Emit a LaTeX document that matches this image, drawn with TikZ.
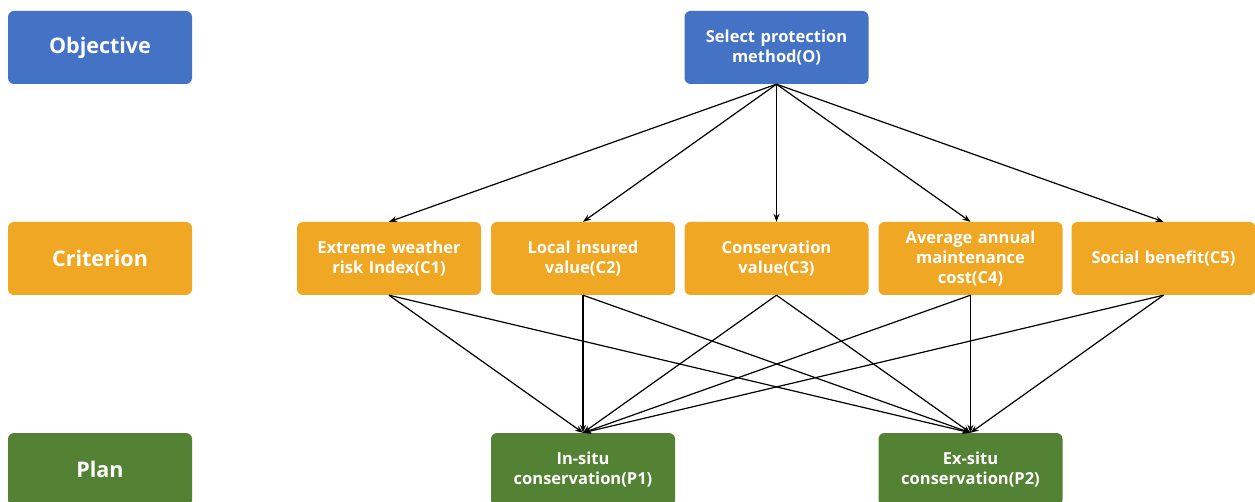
\documentclass[tikz,border=0pt]{standalone}
\usepackage{fontspec}
\setmainfont{Open Sans}
\usetikzlibrary{arrows.meta}
\definecolor{objblue}{HTML}{4472C4}
\definecolor{critorange}{HTML}{EFA724}
\definecolor{plangreen}{HTML}{548235}
\begin{document}
\begin{tikzpicture}[x=1pt,y=-1pt,
  box/.style={rounded corners=6pt, minimum width=184pt, minimum height=73pt, inner sep=2pt,
    text=white, font=\bfseries\fontsize{16.5}{20}\selectfont, align=center, text width=180pt},
  lvl/.style={box, font=\bfseries\fontsize{21.5}{25}\selectfont},
  obj/.style={fill=objblue},
  crit/.style={fill=critorange},
  plan/.style={fill=plangreen},
  link/.style={-{Stealth[length=8pt,width=6pt]}, line width=1.2pt, black}]
\useasboundingbox (0,0) rectangle (1255,502);
\node[lvl,obj]  (lo) at (100,47.5) {Objective};
\node[lvl,crit] (lc) at (100,258.5) {Criterion};
\node[lvl,plan] (lp) at (100,469.5) {Plan};
\node[box,obj] (O) at (776.5,47.5) {Select protection\\method(O)};
\node[box,crit] (C1) at (389,258.5) {Extreme weather\\risk Index(C1)};
\node[box,crit] (C2) at (583,258.5) {Local insured\\value(C2)};
\node[box,crit] (C3) at (776.5,258.5) {Conservation\\value(C3)};
\node[box,crit] (C4) at (970.5,258.5) {Average annual\\maintenance\\cost(C4)};
\node[box,crit] (C5) at (1163.5,258.5) {Social benefit(C5)};
\node[box,plan] (P1) at (583,469.5) {In-situ\\conservation(P1)};
\node[box,plan] (P2) at (970.5,469.5) {Ex-situ\\conservation(P2)};
\foreach \c in {C1,C2,C3,C4,C5}{
  \draw[link] (O.south) -- (\c.north);
  \draw[link] (\c.south) -- (P1.north);
  \draw[link] (\c.south) -- (P2.north);
}
\end{tikzpicture}
\end{document}
